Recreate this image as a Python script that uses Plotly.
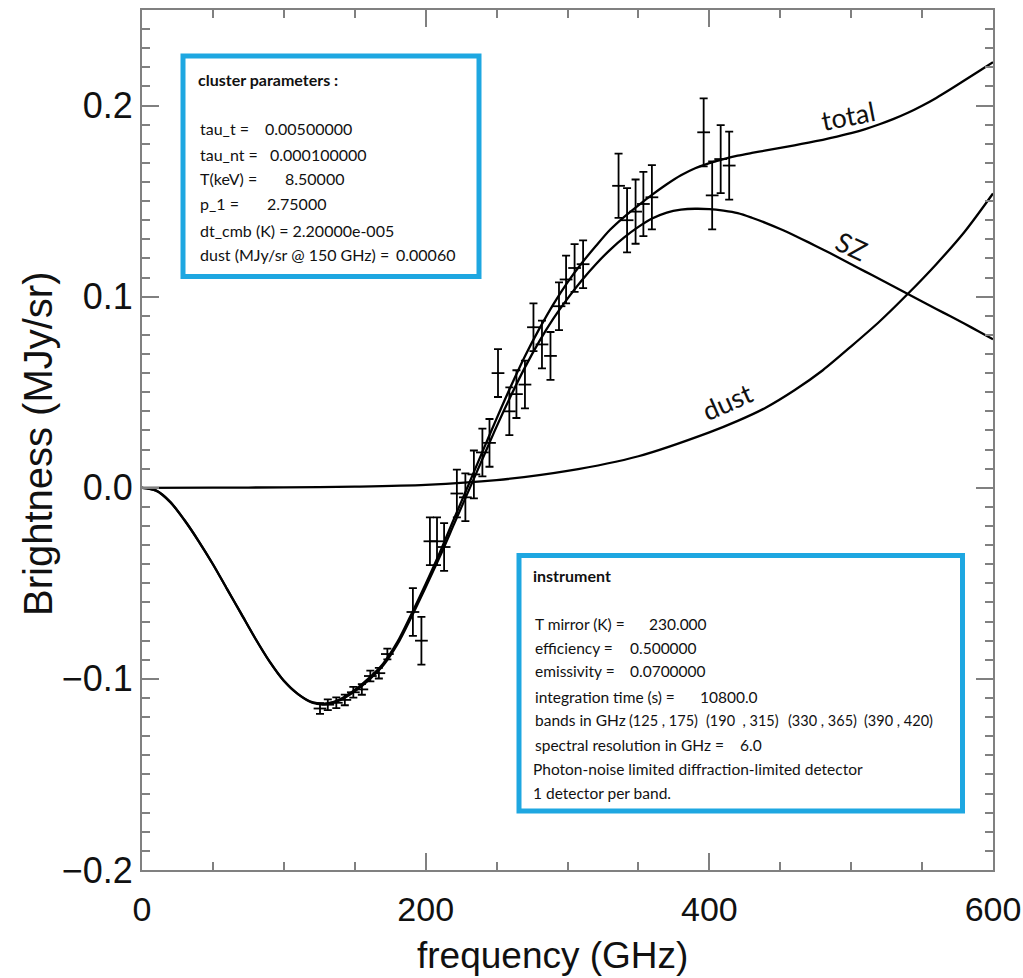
import plotly.graph_objects as go

# ---------------- data ----------------
freq_curve = [0, 10, 20, 30, 40, 50, 60, 70, 80, 90, 100, 110, 120, 130, 140, 150, 160, 170, 180, 190,
              200, 210, 220, 230, 240, 250, 260, 270, 280, 290, 300, 310, 320, 330, 340, 350, 360, 370,
              380, 390, 400, 410, 420, 430, 440, 450, 460, 470, 480, 490, 500, 510, 520, 530, 540, 550,
              560, 570, 580, 590, 600]

sz_curve = [0.0, -0.0015, -0.0075, -0.017, -0.028, -0.040, -0.053, -0.066, -0.079, -0.091, -0.101,
            -0.108, -0.1125, -0.1132, -0.111, -0.1065, -0.1005, -0.0930, -0.0820, -0.0675, -0.0520,
            -0.0360, -0.0190, -0.0020, 0.0150, 0.0320, 0.0480, 0.0630, 0.0765, 0.0885, 0.0990, 0.1085,
            0.1170, 0.1245, 0.1310, 0.1365, 0.1410, 0.1440, 0.1455, 0.1460, 0.1458, 0.1450, 0.1437,
            0.1413, 0.1385, 0.1354, 0.1320, 0.1284, 0.1247, 0.1209, 0.1170, 0.1131, 0.1092, 0.1053,
            0.1014, 0.0975, 0.0936, 0.0897, 0.0858, 0.0818, 0.0777]

total_curve = [0.0, -0.0015, -0.0075, -0.017, -0.028, -0.040, -0.053, -0.066, -0.079, -0.091, -0.101,
               -0.108, -0.1122, -0.1128, -0.1105, -0.1058, -0.0996, -0.0920, -0.0808, -0.0660, -0.0503,
               -0.0338, -0.0162, 0.0012, 0.0188, 0.0362, 0.0530, 0.0688, 0.0830, 0.0960, 0.1075, 0.1175,
               0.1265, 0.1350, 0.1418, 0.1478, 0.1535, 0.1588, 0.1635, 0.1672, 0.1699, 0.1720, 0.1738,
               0.1752, 0.1765, 0.1778, 0.1792, 0.1806, 0.1821, 0.1838, 0.1856, 0.1877, 0.1902, 0.1930,
               0.1962, 0.1999, 0.2040, 0.2085, 0.2132, 0.2180, 0.2227]

freq_dust = [0, 50, 100, 150, 200, 250, 300, 350, 400, 420, 440, 460, 480, 500, 520, 540, 560, 580, 600]
dust_curve = [0.0, 0.0001, 0.0002, 0.0006, 0.0015, 0.0040, 0.0088, 0.0165, 0.0290, 0.0350, 0.0420,
              0.0510, 0.0615, 0.0740, 0.0870, 0.1015, 0.1170, 0.1340, 0.1540]

# simulated measurements, per band
band1_freq = [125.5, 131, 137, 143, 149, 155, 161, 167, 173]
band1_val = [-0.1155, -0.1135, -0.1125, -0.1110, -0.1070, -0.1055, -0.0985, -0.0970, -0.0870]
band1_err = 0.0028

band2_freq = [191, 197, 203, 208, 213, 222, 228, 234, 240, 245, 251, 259, 264, 270, 276, 282, 288,
              294, 299, 305, 311]
band2_val = [-0.065, -0.080, -0.028, -0.028, -0.031, -0.003, -0.005, 0.007, 0.0185, 0.0235, 0.060,
             0.040, 0.049, 0.054, 0.084, 0.075, 0.069, 0.095, 0.109, 0.115, 0.117]
band2_err = 0.0125

band3_freq = [336, 342, 348, 353.5, 359.5]
band3_val = [0.158, 0.1400, 0.1445, 0.1485, 0.1520]
band3_err = 0.0168

band4_freq = [396, 402, 408, 414]
band4_val = [0.186, 0.153, 0.172, 0.1686]
band4_err = 0.0178

freq_halfwidth = 4.5

x_ticks = [0, 200, 400, 600]
y_ticks = [-0.2, -0.1, 0.0, 0.1, 0.2]

cluster_title = "cluster parameters :"
cluster_lines = [("tau_t =", "0.00500000"), ("tau_nt =", "0.000100000"), ("T(keV) =", "8.50000"),
                 ("p_1 =", "2.75000"), ("dt_cmb (K) = 2.20000e-005", ""),
                 ("dust (MJy/sr @ 150 GHz) =", "0.00060")]
instr_title = "instrument"
instr_lines = [("T mirror (K) =", "230.000"), ("efficiency =", "0.500000"),
               ("emissivity =", "0.0700000"), ("integration time (s) =", "10800.0"),
               ("bands in GHz", ""),
               ("spectral resolution in GHz =", "6.0"),
               ("Photon-noise limited diffraction-limited detector", ""),
               ("1 detector per band.", "")]
band_texts = ["(125 , 175)", "(190  , 315)", "(330 , 365)", "(390 , 420)"]

# ---------------- layout geometry (pixels) ----------------
W, H = 1023, 978
PL, PR, PT, PB = 142, 993, 10, 870


def px_x(px):
    return (px - PL) / (PR - PL)


def px_y(py):
    return (PB - py) / (PB - PT)


def nb(s):
    return s.replace(" ", "\u00a0")


fig = go.Figure()
LW = 2.3
for xs, ys in [(freq_curve, total_curve), (freq_curve, sz_curve), (freq_dust, dust_curve)]:
    fig.add_trace(go.Scatter(x=xs, y=ys, mode="lines", line=dict(color="black", width=LW, shape="spline",
                                                                   smoothing=0.8),
                             hoverinfo="skip", showlegend=False))

for fx, fv, fe in [(band1_freq, band1_val, band1_err), (band2_freq, band2_val, band2_err),
                   (band3_freq, band3_val, band3_err), (band4_freq, band4_val, band4_err)]:
    fig.add_trace(go.Scatter(
        x=fx, y=fv, mode="markers", marker=dict(size=2, color="black"), showlegend=False,
        error_y=dict(type="constant", value=fe, color="black", thickness=1.8, width=4),
        error_x=dict(type="constant", value=freq_halfwidth, color="black", thickness=1.8, width=0),
    ))

AXC = "#808080"
fig.update_xaxes(range=[0, 600], tickvals=x_ticks, ticks="inside", ticklen=17, tickwidth=1.5,
                 tickcolor=AXC, showline=True, linecolor=AXC, linewidth=2, mirror="ticks",
                 showgrid=False, zeroline=False, ticklabeloverflow="allow", ticklabelstandoff=8,
                 automargin=False,
                 minor=dict(dtick=50, ticks="inside", ticklen=8, tickwidth=1.5, tickcolor=AXC, showgrid=False),
                 tickfont=dict(family="Liberation Sans, Arial", size=34, color="#111"))
fig.update_yaxes(range=[-0.2, 0.25], tickvals=y_ticks, tickformat=".1f", ticks="inside", ticklen=17,
                 tickwidth=1.5, tickcolor=AXC, showline=True, linecolor=AXC, linewidth=2, mirror="ticks",
                 showgrid=False, zeroline=False, automargin=False,
                 minor=dict(dtick=0.01, ticks="inside", ticklen=8, tickwidth=1.5, tickcolor=AXC, showgrid=False),
                 tickfont=dict(family="Liberation Sans, Arial", size=36, color="#111"))

BLUE = "#1EA7E1"
shapes = []
annotations = []


def box(x0, y0, x1, y1):
    shapes.append(dict(type="rect", xref="paper", yref="paper", x0=px_x(x0), x1=px_x(x1),
                       y0=px_y(y1), y1=px_y(y0), line=dict(color=BLUE, width=5), fillcolor="white",
                       layer="above"))


def text(px, py, s, size=16, bold=False, anchor="left", angle=0, family="Lato, Open Sans"):
    annotations.append(dict(xref="paper", yref="paper", x=px_x(px), y=px_y(py),
                            text=("<b>%s</b>" % nb(s)) if bold else nb(s),
                            showarrow=False, xanchor=anchor, yanchor="middle", textangle=angle,
                            font=dict(family=family, size=size, color="#111")))


box(183, 56, 479, 276.5)
text(196, 79, cluster_title, bold=True)
c_y = [128.5, 154, 178.5, 203.5, 230, 255]
c_val_x = [263, 268, 283, 265, None, 394]
for (lab, val), yy, vx in zip(cluster_lines, c_y, c_val_x):
    text(198, yy, lab)
    if val:
        text(vx, yy, val)

box(519, 555.5, 962.5, 811)
text(531, 575, instr_title, bold=True)
i_y = [623.5, 647.5, 671, 696.5, 720, 744.5, 768.5, 792.5]
i_x = [533, 533, 533, 533, 533, 533, 530.5, 530.5]
i_val_x = [647, 628, 628, 698, None, 738, None, None]
for (lab, val), yy, lx, vx in zip(instr_lines, i_y, i_x, i_val_x):
    text(lx, yy, lab, size=15.5)
    if val:
        text(vx, yy, val, size=15.5)
for bt, bx in zip(band_texts, [627, 704, 786, 862]):
    text(bx, i_y[4], bt, size=14.5)

# curve labels
text(848, 115, "total", size=27, anchor="center", angle=-11)
text(851, 246, "SZ", size=27, anchor="center", angle=25)
text(727, 401, "dust", size=27, anchor="center", angle=-24)

# axis titles
text(552, 955, "frequency (GHz)", size=37, anchor="center", family="Liberation Sans, Arial")
text(38, 444, "Brightness (MJy/sr)", size=40, anchor="center", angle=-90, family="Liberation Sans, Arial")

fig.update_layout(width=W, height=H, margin=dict(l=PL, r=W - PR, t=PT, b=H - PB, pad=0, autoexpand=False),
                  paper_bgcolor="white", plot_bgcolor="white", shapes=shapes, annotations=annotations,
                  showlegend=False)

fig.write_html("out.html")
